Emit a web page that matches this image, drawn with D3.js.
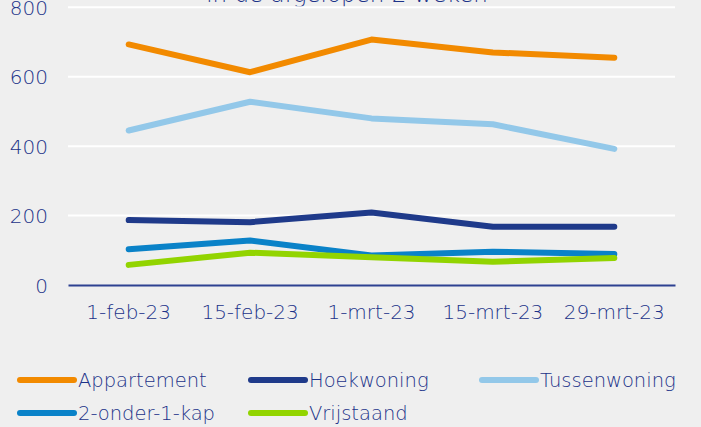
<!DOCTYPE html>
<html>
<head>
<meta charset="utf-8">
<script src="https://cdn.jsdelivr.net/npm/d3@7"></script>
<style>
  body { margin: 0; background: #efefef; }
  svg { display: block; }
  text { font-family: "DejaVu Sans", "Liberation Sans", sans-serif; font-weight: 200; fill: #1c3389; }
</style>
</head>
<body>
<div id="chart"></div>
<script>
// Data.
const dates = ["1-feb-23", "15-feb-23", "1-mrt-23", "15-mrt-23", "29-mrt-23"];
const appartement = [693, 613, 707, 670, 655];
const hoekwoning = [187, 181, 209, 168, 168];
const tussenwoning = [445, 528, 480, 463, 392];
const tweeOnderEenKap = [103, 128, 85, 96, 89];
const vrijstaand = [58, 93, 80, 67, 78];
const yTicks = [0, 200, 400, 600, 800];

const series = [
  { name: "Appartement", values: appartement, color: "#f28a00" },
  { name: "Hoekwoning", values: hoekwoning, color: "#1f3a8a" },
  { name: "Tussenwoning", values: tussenwoning, color: "#93c8e9" },
  { name: "2-onder-1-kap", values: tweeOnderEenKap, color: "#0a82c8" },
  { name: "Vrijstaand", values: vrijstaand, color: "#92d400" }
];

const width = 701, height = 427;
const svg = d3.select("#chart").append("svg")
  .attr("width", width)
  .attr("height", height);

// Title, mostly clipped at the top edge like in the picture.
svg.append("text")
  .attr("x", 347)
  .attr("y", 2)
  .attr("text-anchor", "middle")
  .style("font-size", "23px")
  .text("in de afgelopen 2 weken");

const x = d3.scaleBand().domain(dates).range([68, 675]);
const y = d3.scaleLinear().domain([0, 800]).range([285, 7.3]);

// Gridlines.
svg.append("g")
  .selectAll("line")
  .data(yTicks.filter(d => d > 0))
  .enter()
  .append("line")
  .attr("x1", 68).attr("x2", 675)
  .attr("y1", d => y(d)).attr("y2", d => y(d))
  .attr("stroke", "#ffffff")
  .attr("stroke-width", 2);

// Y axis labels.
const yAxis = svg.append("g")
  .attr("transform", "translate(48,0)")
  .call(d3.axisLeft(y).tickValues(yTicks).tickSize(0).tickPadding(0));
yAxis.select(".domain").remove();
yAxis.selectAll("text").style("font-size", "20px").attr("dy", "0.36em");

// X axis with baseline.
const xAxis = svg.append("g")
  .attr("transform", "translate(0," + y(0) + ")")
  .call(d3.axisBottom(x).tickSize(0).tickPadding(20));
xAxis.select(".domain").attr("stroke", "#2d4191").attr("stroke-width", 2);
xAxis.selectAll("text").style("font-size", "20px");

// Lines.
const line = d3.line()
  .x((d, i) => x(dates[i]) + x.bandwidth() / 2)
  .y(d => y(d));

svg.append("g")
  .selectAll("path")
  .data(series)
  .enter()
  .append("path")
  .attr("d", d => line(d.values))
  .attr("fill", "none")
  .attr("stroke", d => d.color)
  .attr("stroke-width", 6)
  .attr("stroke-linecap", "round")
  .attr("stroke-linejoin", "round");

// Legend.
const legendPos = [[18, 380], [249, 380], [480, 380], [18, 413], [249, 413]];
const legend = svg.append("g")
  .selectAll("g")
  .data(series)
  .enter()
  .append("g")
  .attr("transform", (d, i) => "translate(" + legendPos[i][0] + "," + legendPos[i][1] + ")");

legend.append("line")
  .attr("x1", 2).attr("x2", 56)
  .attr("stroke", d => d.color)
  .attr("stroke-width", 6)
  .attr("stroke-linecap", "round");

legend.append("text")
  .attr("x", 60)
  .attr("dy", "0.36em")
  .style("font-size", "19.5px")
  .text(d => d.name);
</script>
</body>
</html>
